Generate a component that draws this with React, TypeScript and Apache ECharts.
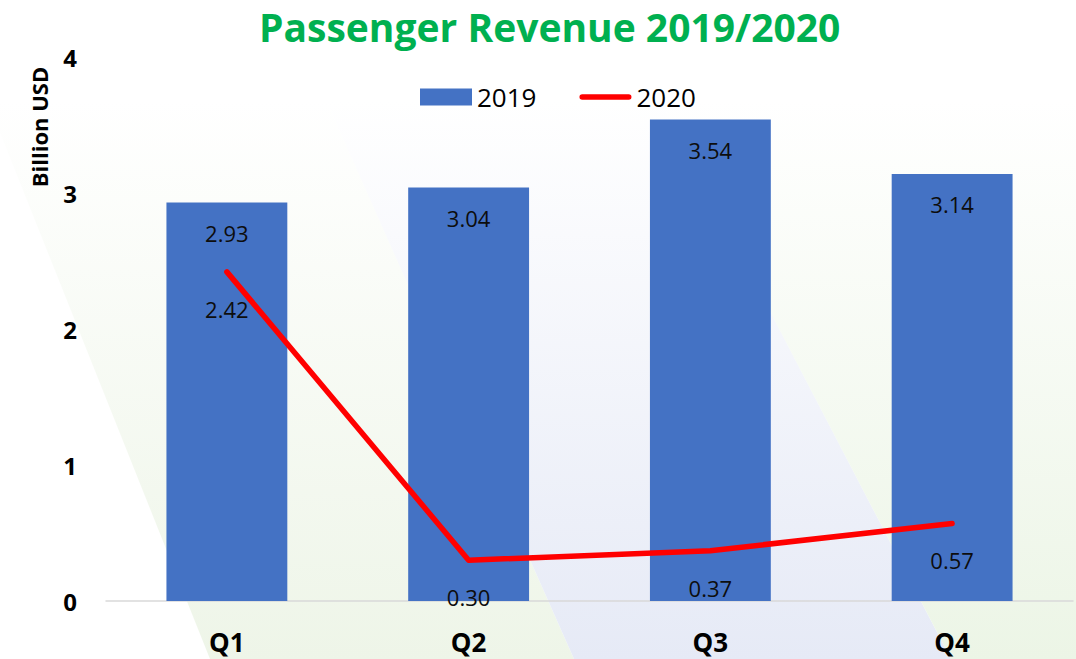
import React, { useEffect, useRef } from "react";
import * as echarts from "echarts";

const categories = ["Q1", "Q2", "Q3", "Q4"];
const revenue2019 = [2.93, 3.04, 3.54, 3.14];
const revenue2020 = [2.42, 0.3, 0.37, 0.57];
const yTicks = { min: 0, max: 4, interval: 1 };
const titleText = "Passenger Revenue 2019/2020";
const yAxisTitle = "Billion USD";

function fade(r: number, g: number, b: number, a: number) {
  return new echarts.graphic.LinearGradient(0, 0, 0, 1, [
    { offset: 0, color: `rgba(${r},${g},${b},0)` },
    { offset: 1, color: `rgba(${r},${g},${b},${a})` },
  ]);
}

export default function App() {
  const ref = useRef<HTMLDivElement>(null);
  useEffect(() => {
    if (!ref.current) return;
    const chart = echarts.init(ref.current, null, { renderer: "svg" });
    const font = '"Open Sans", "Liberation Sans", sans-serif';
    const fmt = (p: any) => Number(p.value).toFixed(2);
    chart.setOption({
      animation: false,
      backgroundColor: "#ffffff",
      textStyle: { fontFamily: font },
      graphic: [
        {
          type: "polygon",
          z: 0,
          silent: true,
          shape: { points: [[-13, 100], [326, 100], [574, 659], [210, 659]] },
          style: { fill: fade(238, 245, 232, 1) },
        },
        {
          type: "polygon",
          z: 0,
          silent: true,
          shape: { points: [[326, 100], [660, 100], [951, 659], [574, 659]] },
          style: { fill: fade(230, 234, 246, 1) },
        },
        {
          type: "polygon",
          z: 0,
          silent: true,
          shape: { points: [[660, 100], [1076, 100], [1076, 659], [951, 659]] },
          style: { fill: fade(236, 245, 230, 1) },
        },
        {
          type: "text",
          x: 39,
          y: 127,
          rotation: Math.PI / 2,
          z: 10,
          style: {
            text: yAxisTitle,
            font: `bold 22px ${font}`,
            fill: "#000000",
            textAlign: "center",
            textVerticalAlign: "middle",
          },
        },
      ],
      title: {
        text: titleText,
        left: 254,
        top: 5,
        padding: [2, 5],
        textStyle: {
          color: "#00b050",
          fontSize: 39,
          fontWeight: "bold",
          fontFamily: font,
        },
      },
      legend: {
        left: 415,
        top: 79,
        itemWidth: 52,
        itemHeight: 17,
        itemGap: 43,
        textStyle: { fontSize: 26, color: "#000000", fontFamily: font },
        data: [
          { name: "2019", icon: "rect" },
          {
            name: "2020",
            icon: "path://M0,0 M56,17 M3,5.5 L53,5.5 A3,3 0 0 1 53,11.5 L3,11.5 A3,3 0 0 1 3,5.5 Z",
          },
        ],
      },
      grid: { left: 106, right: 3, top: 57, bottom: 58, containLabel: false },
      xAxis: {
        type: "category",
        data: categories,
        axisLine: { show: true, lineStyle: { color: "#d9d9d9", width: 1.5 } },
        axisTick: { show: false },
        axisLabel: {
          margin: 28,
          fontSize: 26,
          fontWeight: "bold",
          color: "#000000",
          fontFamily: font,
        },
      },
      yAxis: {
        type: "value",
        min: yTicks.min,
        max: yTicks.max,
        interval: yTicks.interval,
        splitLine: { show: false },
        axisLine: { show: false },
        axisTick: { show: false },
        axisLabel: {
          margin: 29,
          fontSize: 24,
          fontWeight: "bold",
          color: "#000000",
          fontFamily: font,
        },
      },
      series: [
        {
          name: "2019",
          type: "bar",
          data: revenue2019,
          barWidth: "50%",
          itemStyle: { color: "#4472c4" },
          label: {
            show: true,
            position: "insideTop",
            distance: 19,
            fontSize: 22,
            color: "#0d0d0d",
            fontFamily: font,
            formatter: fmt,
          },
          z: 2,
        },
        {
          name: "2020",
          type: "line",
          data: revenue2020,
          symbol: "circle",
          symbolSize: 2,
          itemStyle: { color: "#ff0000" },
          lineStyle: { color: "#ff0000", width: 5.5, cap: "round", join: "round" },
          label: {
            show: true,
            position: "bottom",
            distance: 25,
            fontSize: 22,
            color: "#0d0d0d",
            fontFamily: font,
            formatter: fmt,
          },
          z: 3,
        },
      ],
    });
    return () => chart.dispose();
  }, []);
  return (
    <div
      ref={ref}
      style={{ position: "fixed", left: 0, top: 0, width: 1076, height: 659 }}
    />
  );
}
